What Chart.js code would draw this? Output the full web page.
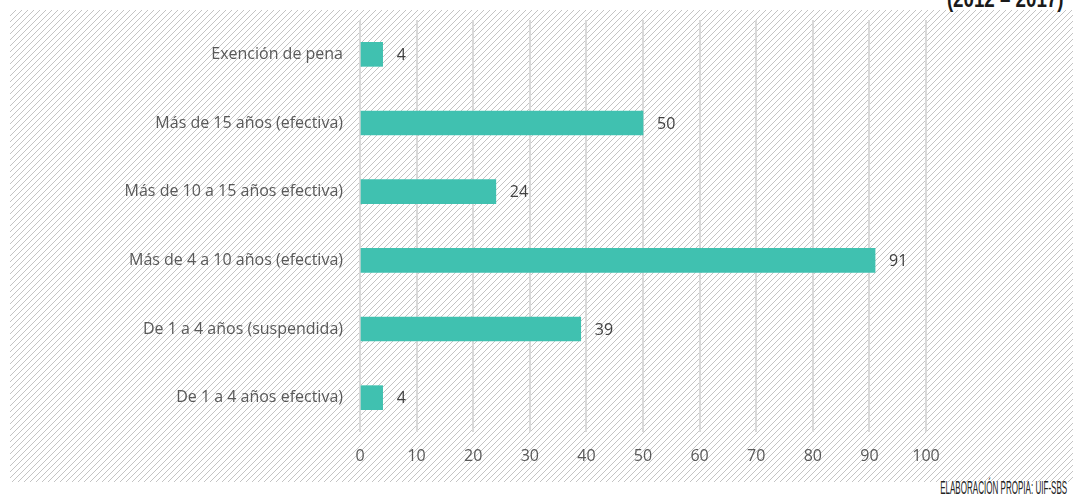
<!DOCTYPE html>
<html>
<head>
<meta charset="utf-8">
<script src="https://cdn.jsdelivr.net/npm/chart.js@4"></script>
<style>
  html, body { margin: 0; padding: 0; background: #fff; }
  #wrap { position: relative; width: 1073px; height: 497px; overflow: hidden; }
  #hatch { position: absolute; left: 10px; top: 10px; width: 1063px; height: 472px; }
  #title {
    position: absolute; right: 10px; top: -15px;
    font: bold 24px "Liberation Sans", sans-serif;
    color: #1a1a1a; white-space: nowrap;
    transform: scaleX(0.78); transform-origin: right top;
  }
  #note {
    position: absolute; right: 6px; top: 478px;
    font: 17.5px "Liberation Sans", sans-serif;
    color: #222; white-space: nowrap;
    transform: scaleX(0.46); transform-origin: right top;
  }
  canvas { position: absolute; left: 0; top: 0; }
</style>
</head>
<body>
<div id="wrap">
  <div id="hatch"></div>
  <div id="title">(2012 – 2017)</div>
  <div id="note">ELABORACIÓN PROPIA: UIF-SBS</div>
  <canvas id="penasChart" width="1073" height="497"></canvas>
</div>
<script>
// Data
const categories = [
  "Exención de pena",
  "Más de 15 años (efectiva)",
  "Más de 10 a 15 años efectiva)",
  "Más de 4 a 10 años (efectiva)",
  "De 1 a 4 años (suspendida)",
  "De 1 a 4 años efectiva)"
];
const values = [4, 50, 24, 91, 39, 4];
const xTicks = [0, 10, 20, 30, 40, 50, 60, 70, 80, 90, 100];

const FONT = "'Open Sans', 'Noto Sans', sans-serif";
const TEXT = "#595959";

// diagonal hatch background tile
function makeHatch() {
  const t = document.createElement("canvas");
  t.width = 6; t.height = 6;
  const c = t.getContext("2d");
  c.strokeStyle = "#c4c4c4";
  c.lineWidth = 1;
  c.beginPath();
  c.moveTo(-1, 7); c.lineTo(7, -1);
  c.moveTo(-1, 1); c.lineTo(1, -1);
  c.moveTo(5, 7); c.lineTo(7, 5);
  c.stroke();
  document.getElementById("hatch").style.background = `url(${t.toDataURL()})`;
}
makeHatch();

// value labels right of each bar
const valueLabels = {
  id: "valueLabels",
  afterDatasetsDraw(chart) {
    const ctx = chart.ctx;
    const meta = chart.getDatasetMeta(0);
    ctx.save();
    ctx.font = "16px " + FONT;
    ctx.fillStyle = "#404040";
    ctx.textAlign = "left";
    ctx.textBaseline = "middle";
    meta.data.forEach((bar, i) => {
      ctx.fillText(String(values[i]), bar.x + 14, bar.y + 1);
    });
    ctx.restore();
  }
};

new Chart(document.getElementById("penasChart"), {
  type: "bar",
  data: {
    labels: categories,
    datasets: [{
      data: values,
      backgroundColor: "#40c1b0",
      barThickness: 24
    }]
  },
  options: {
    indexAxis: "y",
    responsive: false,
    animation: false,
    layout: { padding: { left: 0, right: 147, top: 20, bottom: 0 } },
    plugins: { legend: { display: false }, tooltip: { enabled: false } },
    scales: {
      x: {
        min: 0,
        max: 100,
        afterBuildTicks: (scale) => { scale.ticks = xTicks.map(v => ({ value: v })); },
        afterFit: (scale) => { scale.height = 65; },
        grid: { color: "#d9d9d9", lineWidth: 2, drawTicks: false },
        border: { display: false },
        ticks: { padding: 15, color: TEXT, font: { family: FONT, size: 16 } }
      },
      y: {
        afterFit: (scale) => {
          scale.width = 360;
          // don't let the label padding push the plot area down
          scale.paddingTop = 0;
          scale.paddingBottom = 0;
        },
        grid: { display: false, drawTicks: false },
        border: { display: false },
        ticks: { padding: 17, color: TEXT, font: { family: FONT, size: 16 } }
      }
    }
  },
  plugins: [valueLabels]
});
</script>
</body>
</html>
